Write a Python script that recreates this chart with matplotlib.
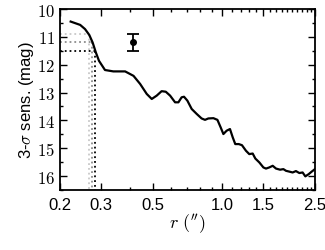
import numpy as np
import matplotlib
matplotlib.use("Agg")
import matplotlib.pyplot as plt
from matplotlib.ticker import FixedLocator, FixedFormatter, NullFormatter, MultipleLocator

plt.rcParams['mathtext.fontset'] = 'cm'
plt.rcParams['font.family'] = ['Liberation Sans', 'DejaVu Sans']

# sensitivity curve (r in arcsec, 3-sigma magnitude)
r = [0.222, 0.244, 0.256, 0.267, 0.276, 0.285, 0.294, 0.312, 0.339, 0.381,
     0.414, 0.442, 0.472, 0.496, 0.521, 0.547, 0.570, 0.595, 0.625, 0.646,
     0.667, 0.683, 0.706, 0.737, 0.775, 0.813, 0.841, 0.869, 0.914, 0.951,
     0.982, 1.009, 1.042, 1.077, 1.107, 1.135, 1.175, 1.213, 1.262, 1.304,
     1.349, 1.385, 1.441, 1.500, 1.539, 1.589, 1.645, 1.700, 1.770, 1.829,
     1.877, 1.941, 2.004, 2.071, 2.142, 2.213, 2.273, 2.350, 2.421, 2.5]
sens = [10.45, 10.57, 10.72, 10.93, 11.20, 11.56, 11.86, 12.19, 12.24, 12.24,
        12.40, 12.69, 13.05, 13.23, 13.11, 12.95, 12.97, 13.11, 13.35, 13.35,
        13.17, 13.15, 13.29, 13.59, 13.77, 13.93, 13.98, 13.93, 13.92, 13.98,
        14.25, 14.49, 14.37, 14.31, 14.61, 14.85, 14.85, 14.89, 15.09, 15.21,
        15.19, 15.37, 15.51, 15.69, 15.73, 15.69, 15.63, 15.73, 15.77, 15.75,
        15.81, 15.84, 15.87, 15.82, 15.89, 15.87, 16.01, 15.93, 15.84, 15.75]

# companion point with error bar
comp_r = [0.411]
comp_mag = [11.2]
comp_err = [0.3]

# detection limits (mag, r where curve reaches them)
lim_mag = [10.9, 11.2, 11.5]
lim_r = [0.265, 0.275, 0.282]
lim_col = ['#c8c8c8', '#8c8c8c', 'black']

xticks = [0.2, 0.3, 0.5, 1.0, 1.5, 2.5]
xlabels = ['0.2', '0.3', '0.5', '1.0', '1.5', '2.5']
xminor = [round(0.1 * i, 1) for i in range(2, 26)]

fig = plt.figure(figsize=(3.25, 2.51), dpi=100)
ax = fig.add_axes([0.185, 0.239, 0.784, 0.721])

for m, rr, c in zip(lim_mag, lim_r, lim_col):
    ax.plot([0.2, rr], [m, m], ls=':', color=c, lw=1.3)
    ax.plot([rr, rr], [m, 16.5], ls=':', color=c, lw=1.3)

ax.plot(r, sens, color='black', lw=1.6)
ax.errorbar(comp_r, comp_mag, yerr=comp_err, fmt='o', color='black',
            ms=4, capsize=4, elinewidth=1.3, capthick=1.3)

ax.set_xscale('log')
ax.set_xlim(0.2, 2.5)
ax.set_ylim(16.5, 10)
ax.xaxis.set_major_locator(FixedLocator(xticks))
ax.xaxis.set_major_formatter(FixedFormatter(xlabels))
ax.xaxis.set_minor_locator(FixedLocator([v for v in xminor if v not in xticks]))
ax.xaxis.set_minor_formatter(NullFormatter())
ax.yaxis.set_major_locator(MultipleLocator(1))
ax.yaxis.set_minor_locator(MultipleLocator(0.5))
ax.yaxis.set_major_formatter(plt.FuncFormatter(lambda v, p: r'$%d$' % v))

ax.tick_params(which='both', direction='in', top=True, right=True, width=1.0)
ax.tick_params(which='major', length=5, labelsize=12)
ax.tick_params(axis='x', which='major', pad=5)
ax.tick_params(which='minor', length=2.5)
for s in ax.spines.values():
    s.set_linewidth(1.3)

ax.set_xlabel(r"$r\ ('')$", fontsize=13, labelpad=0)
ax.set_ylabel(r'3-$\sigma$ sens. (mag)', fontsize=12, labelpad=1)

fig.savefig('out.png', dpi=100)
